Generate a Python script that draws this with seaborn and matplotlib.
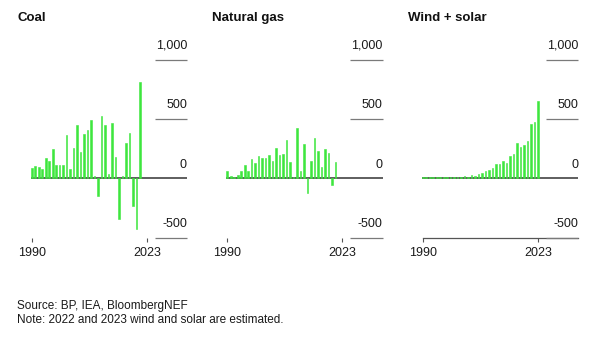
import numpy as np
import pandas as pd
import matplotlib
matplotlib.use("Agg")
import matplotlib.pyplot as plt
import seaborn as sns

sns.set_theme(style="white")
plt.rcParams["font.family"] = ["Liberation Sans", "DejaVu Sans"]

# Year-over-year change in power generation (TWh)
coal_years = list(range(1990, 2022))
coal_change = [84, 101, 93, 76, 169, 146, 244, 115, 110, 115,
               365, 76, 253, 447, 222, 371, 405, 492, 17, -146,
               523, 447, 34, 469, 177, -343, 20, 298, 379, -236,
               -427, 809]

gas_years = list(range(1990, 2022))
gas_change = [59, 22, 14, 28, 59, 112, 62, 166, 132, 185,
              171, 171, 200, 149, 256, 194, 208, 323, 140, 11,
              421, 59, 292, -121, 149, 337, 233, 96, 247, 211,
              -53, 140]

ws_years = list(range(1990, 2024))
ws_change = [8, 8, 8, 8, 8, 8, 8, 8, 8, 8,
             11, 11, 20, 11, 28, 17, 37, 45, 59, 67,
             87, 124, 124, 146, 132, 185, 208, 298, 261, 281,
             318, 455, 472, 652]

panel_titles = ["Coal", "Natural gas", "Wind + solar"]
y_ticks = [1000, 500, 0, -500]
y_tick_labels = ["1,000", "500", "0", "-500"]
x_ticks = [1990, 2023]
footer_lines = ["Source: BP, IEA, BloombergNEF",
                "Note: 2022 and 2023 wind and solar are estimated."]

BAR = "#3ee63e"
GRID = "#7a7a7a"
ZERO = "#333333"
TEXT = "#1a1a1a"

W, H = 600, 337
fig = plt.figure(figsize=(W / 100, H / 100), dpi=100)

x_lo, x_hi = 1989.0, 2034.5
series = [(coal_years, coal_change), (gas_years, gas_change), (ws_years, ws_change)]
panel_left_px = [28.2, 223.7, 419.2]
title_left_px = [17, 212.5, 408]
ax_w_px = 158.8
ax_bottom = (H - 237.6) / H
ax_top = (H - 59.6) / H

for i, ((yrs, vals), title) in enumerate(zip(series, panel_titles)):
    ax = fig.add_axes([panel_left_px[i] / W, ax_bottom, ax_w_px / W, ax_top - ax_bottom])
    df = pd.DataFrame({"year": yrs, "value": vals})
    sns.barplot(data=df, x="year", y="value", native_scale=True, width=0.5,
                color=BAR, saturation=1, errorbar=None,
                edgecolor=BAR, linewidth=0.4, zorder=2, ax=ax)
    ax.set_xlim(x_lo, x_hi)
    ax.set_ylim(-500, 1000)
    ax.set_xlabel("")
    ax.set_ylabel("")
    ax.set_yticks([])

    # short reference lines on the right, with the zero line spanning the panel
    for v, lab in zip(y_ticks, y_tick_labels):
        if v == 0:
            ax.hlines(0, 1989.8, x_hi, color=ZERO, lw=1.1, zorder=1, clip_on=False)
        else:
            ax.hlines(v, 2025.3, x_hi, color=GRID, lw=0.9, zorder=3, clip_on=False)
        ax.annotate(lab, xy=(x_hi, v), xytext=(0, 5.5), textcoords="offset points",
                    ha="right", va="bottom", fontsize=9, color=TEXT,
                    annotation_clip=False)

    for s in ["top", "left", "right", "bottom"]:
        ax.spines[s].set_visible(False)
    if i == 2:
        ax.spines["bottom"].set_visible(True)
        ax.spines["bottom"].set_bounds(1990, x_hi)
        ax.spines["bottom"].set_color("#555555")
        ax.spines["bottom"].set_linewidth(0.9)

    ax.set_xticks(x_ticks)
    ax.set_xticklabels([str(t) for t in x_ticks])
    ax.tick_params(axis="x", bottom=True, length=3, width=0.8, color="#555555",
                   pad=3.5, labelsize=9, labelcolor=TEXT)
    ax.patch.set_alpha(0)

    fig.text(title_left_px[i] / W, 1 - 20.7 / H, title, fontsize=9.5,
             fontweight="bold", color="#111111", ha="left", va="baseline")

fig.text(17 / W, 1 - 309 / H, footer_lines[0], fontsize=8.5, color=TEXT,
         ha="left", va="baseline")
fig.text(17 / W, 1 - 323 / H, footer_lines[1], fontsize=8.5, color=TEXT,
         ha="left", va="baseline")

fig.savefig("out.png", dpi=100, facecolor="white")
